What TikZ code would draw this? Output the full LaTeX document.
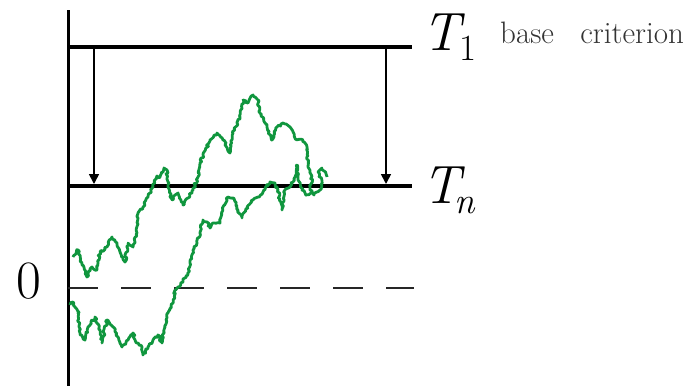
\documentclass[tikz,border=0pt]{standalone}
\usetikzlibrary{arrows.meta,decorations.pathmorphing}
\definecolor{walkgreen}{RGB}{16,150,62}
\newcommand{\subsz}[1]{\raisebox{-10pt}{\fontsize{37}{40}\selectfont #1}}
\begin{document}
\begin{tikzpicture}[x=1pt,y=-1pt,
  level/.style={line width=4pt},
  axisline/.style={line width=2.2pt},
  droparrow/.style={line width=1.7pt,-{Triangle[width=10pt,length=10pt]}},
  zeroline/.style={line width=1.8pt,dash pattern=on 30pt off 23pt,black!85},
  walk/.style={walkgreen,line width=2.8pt,line join=round,
    decorate,decoration={random steps,segment length=1.8pt,amplitude=1.2pt}},
  bigmath/.style={font=\fontsize{54}{60}\selectfont,inner sep=0pt},
  smalltext/.style={font=\fontsize{31}{36}\selectfont,inner sep=0pt,text=black!80}]
\useasboundingbox (0,0) rectangle (698,386);
\pgfmathsetseed{7}
% coordinates
\coordinate (axtop) at (68.5,10);
\coordinate (axbot) at (68.5,386);
\coordinate (t1l) at (68,47);
\coordinate (t1r) at (412,47);
\coordinate (tnl) at (68,186);
\coordinate (tnr) at (412,186);
\coordinate (zl) at (68,288);
\coordinate (zr) at (414,288);
\coordinate (a1s) at (94,47);
\coordinate (a1e) at (94,184);
\coordinate (a2s) at (386,47);
\coordinate (a2e) at (386,184);
% axis and levels
\draw[axisline] (axtop) -- (axbot);
\draw[level] (t1l) -- (t1r);
\draw[level] (tnl) -- (tnr);
\draw[zeroline] (zl) -- (zr);
\draw[droparrow] (a1s) -- (a1e);
\draw[droparrow] (a2s) -- (a2e);
% labels
\node[bigmath,anchor=base west] (T1) at (422,50) {\textit{T}\hspace{-5pt}\subsz{1}};
\node[smalltext,anchor=base west] (crit) at (500,43) {base\hspace{0.85em}criterion};
\node[bigmath,anchor=base west] (Tn) at (422,203) {\textit{T}\hspace{-10pt}\subsz{\textit{n}}};
\node[bigmath,anchor=base east] (zero) at (41,298) {0};
% upper random walk
\draw[walk] (73,257) -- (78,250) -- (82,265) -- (87,277) -- (92,267) -- (97,270)
 -- (100,252) -- (107,247) -- (112,237) -- (117,243) -- (120,252) -- (125,262)
 -- (128,243) -- (133,247) -- (137,233) -- (138,213) -- (143,207) -- (148,197)
 -- (153,187) -- (157,176) -- (160,177) -- (164,168) -- (167,170) -- (168,187)
 -- (172,200) -- (178,193) -- (183,205) -- (188,198) -- (193,190) -- (198,177)
 -- (200,163) -- (210,140) -- (217,133) -- (223,140) -- (230,153) -- (233,133)
 -- (240,117) -- (243,100) -- (248,103) -- (253,95) -- (258,100) -- (260,113)
 -- (267,127) -- (272,140) -- (277,127) -- (283,123) -- (290,127) -- (297,140)
 -- (303,140) -- (307,147) -- (308,167) -- (312,176) -- (310,190) -- (314,195)
 -- (320,190) -- (322,182) -- (318,172) -- (322,168) -- (327,177);
% lower random walk
\draw[walk] (70,305) -- (73,302) -- (78,313) -- (80,333) -- (85,340) -- (88,327)
 -- (95,317) -- (100,330) -- (102,343) -- (107,320) -- (113,327) -- (118,337)
 -- (122,347) -- (128,340) -- (133,333) -- (137,343) -- (142,347) -- (143,355)
 -- (148,347) -- (153,340) -- (158,335) -- (162,343) -- (165,327) -- (168,313)
 -- (173,303) -- (175,290) -- (178,287) -- (183,280) -- (188,275) -- (190,263)
 -- (193,250) -- (197,243) -- (200,233) -- (203,220) -- (207,222) -- (210,228)
 -- (213,223) -- (220,223) -- (223,207) -- (228,197) -- (233,198) -- (238,210)
 -- (242,218) -- (247,207) -- (253,200) -- (258,197) -- (263,192) -- (270,182)
 -- (275,183) -- (278,190) -- (282,210) -- (285,190) -- (290,187) -- (295,177)
 -- (297,165) -- (298,180) -- (302,190) -- (306,195) -- (312,192);
\end{tikzpicture}
\end{document}
